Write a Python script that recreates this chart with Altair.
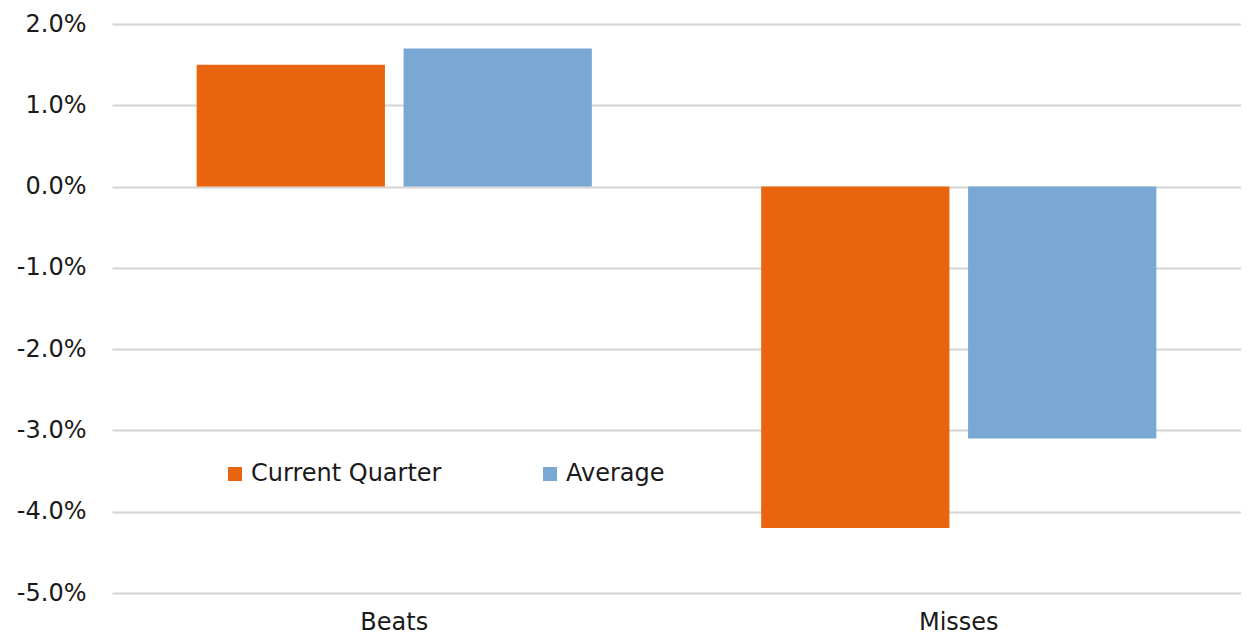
import altair as alt
import pandas as pd

categories = ["Beats", "Misses"]
series = ["Current Quarter", "Average"]
current_quarter = [0.015, -0.042]
average = [0.017, -0.031]
y_ticks = [-0.05, -0.04, -0.03, -0.02, -0.01, 0.0, 0.01, 0.02]
colors = ["#E9640E", "#7AA8D5"]

rows = []
for i, c in enumerate(categories):
    rows.append({"category": c, "series": series[0], "value": current_quarter[i]})
    rows.append({"category": c, "series": series[1], "value": average[i]})
df = pd.DataFrame(rows)

FONT = "DejaVu Sans"

chart = alt.Chart(df).mark_bar().encode(
    x=alt.X(
        "category:N", sort=categories,
        scale=alt.Scale(paddingInner=0.3, paddingOuter=0.15),
        axis=alt.Axis(title=None, labelAngle=0, ticks=False, domain=False, grid=False,
                      labelFontSize=24, labelPadding=17, labelColor="#1a1a1a", labelFont=FONT),
    ),
    xOffset=alt.XOffset("series:N", sort=series, scale=alt.Scale(paddingInner=0.09, paddingOuter=0)),
    y=alt.Y(
        "value:Q",
        scale=alt.Scale(domain=[-0.05, 0.02], nice=False, zero=False),
        axis=alt.Axis(title=None, values=y_ticks, ticks=False, domain=False,
                      labelExpr="replace(format(datum.value, '.1%'), '\u2212', '-')",
                      labelFontSize=24, labelPadding=26, labelColor="#1a1a1a", labelFont=FONT,
                      gridColor="#d4d4d4", gridWidth=2),
    ),
    color=alt.Color(
        "series:N", sort=series,
        scale=alt.Scale(domain=series, range=colors),
        legend=alt.Legend(title=None, orient="none", legendX=111, legendY=438,
                          direction="horizontal", columns=2, columnPadding=96,
                          symbolType="square", symbolSize=196, symbolStrokeWidth=0,
                          labelFontSize=24, labelFont=FONT, labelColor="#1a1a1a",
                          labelOffset=4, labelLimit=400),
    ),
).properties(
    width=1129, height=569,
    background="white",
    autosize=alt.AutoSizeParams(type="none"),
    padding={"left": 104, "top": 16, "right": 0, "bottom": 42},
).configure_view(stroke="transparent", strokeWidth=0)

chart.save("out.html", embed_options={"renderer": "svg", "actions": False})
